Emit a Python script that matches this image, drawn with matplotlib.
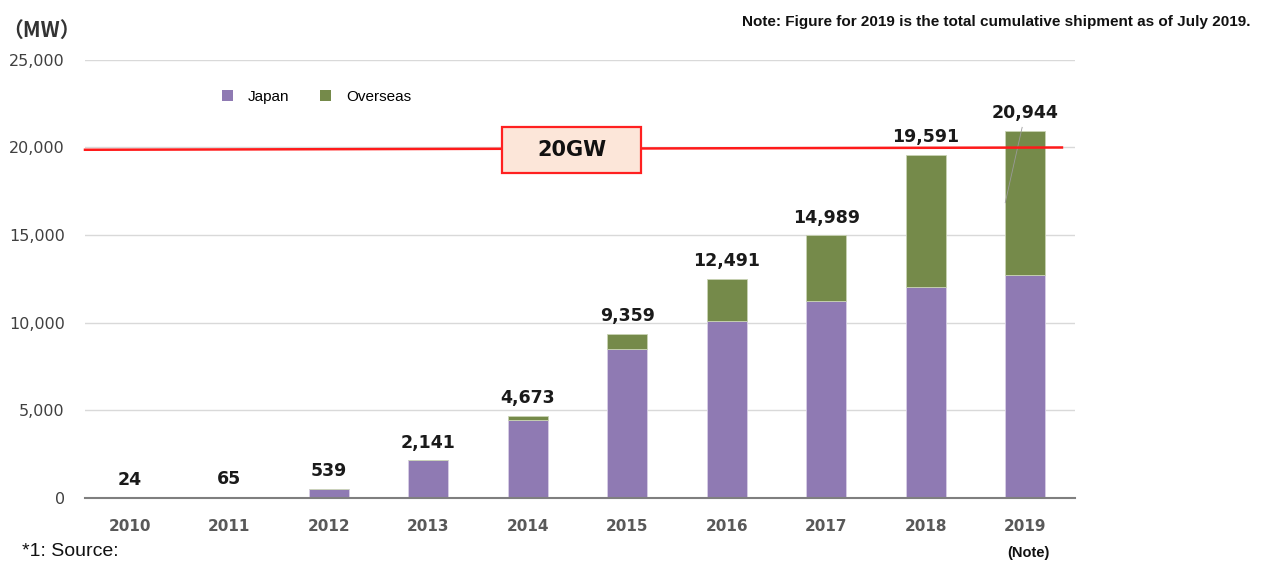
import matplotlib.pyplot as plt
from matplotlib.patches import Patch, Rectangle

plt.rcParams['font.family'] = ['DejaVu Sans', 'Noto Sans CJK JP']

years = ['2010', '2011', '2012', '2013', '2014', '2015', '2016', '2017', '2018', '2019']
japan = [24, 65, 539, 2141, 4460, 8500, 10100, 11250, 12050, 12730]
totals = [24, 65, 539, 2141, 4673, 9359, 12491, 14989, 19591, 20944]
overseas = [t - j for t, j in zip(totals, japan)]
total_labels = ['24', '65', '539', '2,141', '4,673', '9,359', '12,491', '14,989', '19,591', '20,944']
yticks = [0, 5000, 10000, 15000, 20000, 25000]
target = 20000

c_japan = '#8f7ab3'
c_over = '#758a4a'

fig = plt.figure(figsize=(12.61, 5.61), dpi=100)
ax = fig.add_axes([0.0674, 0.1123, 0.785, 0.781])

x = list(range(len(years)))
ax.bar(x, japan, width=0.4, color=c_japan, edgecolor='#d8cfe6', linewidth=0.6, zorder=3)
ax.bar(x, overseas, bottom=japan, width=0.4, color=c_over, edgecolor='#c9d3b4', linewidth=0.6, zorder=3)

for i, (t, lab) in enumerate(zip(totals, total_labels)):
    ax.text(i, t + 500, lab, ha='center', va='bottom', fontsize=12.5,
            fontweight='bold', color='#1a1a1a', zorder=5)

# leader line for 2019 label
ax.plot([8.97, 8.80], [21150, 16850], color='#9a9a9a', lw=0.6, zorder=4)

# 20GW reference line
ax.plot([-0.45, 9.37], [target - 130, target], color='#ff1a1a', lw=1.8, zorder=4, clip_on=False)
ax.add_patch(Rectangle((4.44 - 0.70, target - 140 - 1310), 1.40, 2620, facecolor='#fce6d9',
                       edgecolor='#ff2020', linewidth=1.6, zorder=6))
ax.text(4.44, target - 140, '20GW', ha='center', va='center', fontsize=15, fontweight='bold',
        color='#111111', zorder=7)

ax.set_xlim(-0.45, 9.5)
ax.set_ylim(0, 25000)
ax.set_yticks(yticks)
ax.set_yticklabels([f'{v:,}' for v in yticks], fontsize=11.5, color='#404040')
ax.set_xticks(x)
ax.set_xticklabels(years, fontsize=11, fontweight='bold', color='#595959')
ax.tick_params(axis='both', length=0)
ax.tick_params(axis='y', pad=14.5)
ax.tick_params(axis='x', pad=15)
ax.grid(axis='y', color='#d9d9d9', lw=1, zorder=0)
for s in ['top', 'right', 'left']:
    ax.spines[s].set_visible(False)
ax.spines['bottom'].set_color('#7f7f7f')
ax.spines['bottom'].set_linewidth(1.5)
ax.spines['bottom'].set_zorder(4)

handles = [Patch(facecolor=c_japan, label='Japan'), Patch(facecolor=c_over, label='Overseas')]
fig.legend(handles=handles, loc='center left', bbox_to_anchor=(0.165, 1 - 97 / 561), ncol=2,
           frameon=False, prop={'family': 'Liberation Sans', 'size': 11}, handlelength=0.7,
           handleheight=0.7, handletextpad=1.0, columnspacing=2.0)

fig.text(0.002, 1 - 30 / 561, '（MW）', fontsize=15, fontweight='bold', color='#333333',
         family=['Noto Sans CJK JP', 'DejaVu Sans'], va='center')
fig.text(0.992, 1 - 22 / 561, 'Note: Figure for 2019 is the total cumulative shipment as of July 2019.',
         ha='right', va='center', fontsize=11, fontweight='bold', color='#111111',
         family=['Liberation Sans', 'DejaVu Sans'])
fig.text(22 / 1261, 0.001, '*1: Source:', fontsize=14, color='#111111',
         family=['Liberation Sans', 'DejaVu Sans'], va='bottom')
fig.text(1028 / 1261, 1 - 553 / 561, '(Note)', ha='center', fontsize=10.5, fontweight='bold',
         color='#111111', family=['Liberation Sans', 'DejaVu Sans'], va='center')

fig.savefig('out.png', dpi=100)
